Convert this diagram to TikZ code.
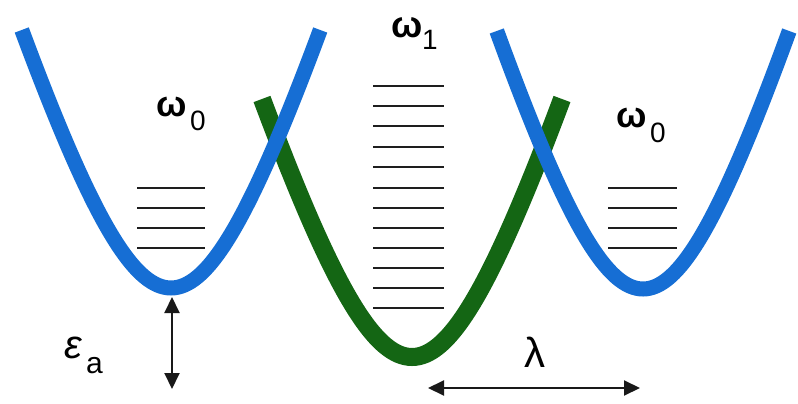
\documentclass[tikz,border=0pt]{standalone}
\usepackage{fontspec}
\setmainfont{Liberation Sans}
\usetikzlibrary{arrows.meta}
\definecolor{wellblue}{RGB}{22,110,212}
\definecolor{wellgreen}{RGB}{20,102,20}
\definecolor{levelgray}{RGB}{30,30,30}
\tikzset{
  bluewell/.style={draw=wellblue,line width=15pt,line cap=butt},
  greenwell/.style={draw=wellgreen,line width=18pt,line cap=butt},
  levelline/.style={draw=levelgray,line width=2pt},
  dimarrow/.style={draw=black!90,line width=2pt,{Triangle[width=15pt,length=16pt]}-{Triangle[width=15pt,length=16pt]}},
  lbl/.style={anchor=base west,inner sep=0pt,outer sep=0pt},
}
\begin{document}
\begin{tikzpicture}[x=1pt,y=-1pt]
\useasboundingbox (0,0) rectangle (798,404);
% green well (drawn first, blue crosses over it)
\draw[greenwell] plot[domain=-15:15,samples=91,smooth] ({412+10*\x},{357-32.14*(sqrt(\x*\x+100)-10)});
% blue wells
\draw[bluewell] plot[domain=-15:15,samples=91,smooth] ({171+9.95*\x},{288-32.14*(sqrt(\x*\x+100)-10)});
\draw[bluewell] plot[domain=-15:15,samples=91,smooth] ({643+9.75*\x},{289-32.14*(sqrt(\x*\x+100)-10)});
% levels
\foreach \yy in {188,208,228,248} {
  \draw[levelline] (137,\yy) -- (205,\yy);
  \draw[levelline] (608,\yy) -- (677,\yy);
}
\foreach \yy in {86,106,126,147,167,188,208,228,248,268,288,308} {
  \draw[levelline] (373,\yy) -- (444,\yy);
}
% labels
\node[lbl] (w0L) at (156,117) {\fontsize{36}{36}\selectfont\bfseries ω};
\node[lbl] (w0Ls) at (190,130) {\fontsize{28}{28}\selectfont 0};
\node[lbl] (w0R) at (616,128) {\fontsize{36}{36}\selectfont\bfseries ω};
\node[lbl] (w0Rs) at (650,142) {\fontsize{28}{28}\selectfont 0};
\node[lbl] (w1) at (391,38) {\fontsize{37}{37}\selectfont\bfseries ω};
\node[lbl] (w1s) at (422,50) {\fontsize{28}{28}\selectfont 1};
\node[lbl] (eps) at (64,358) {\fontsize{40}{40}\selectfont\itshape ε};
\node[lbl] (epss) at (86,373) {\fontsize{30}{30}\selectfont a};
\node[lbl] (lam) at (524,367) {\fontsize{42}{42}\selectfont λ};
% dimension arrows
\coordinate (ea1) at (172,297);
\coordinate (ea2) at (172,389);
\draw[dimarrow] (ea1) -- (ea2);
\coordinate (la1) at (428,388);
\coordinate (la2) at (640,388);
\draw[dimarrow] (la1) -- (la2);
\end{tikzpicture}
\end{document}
